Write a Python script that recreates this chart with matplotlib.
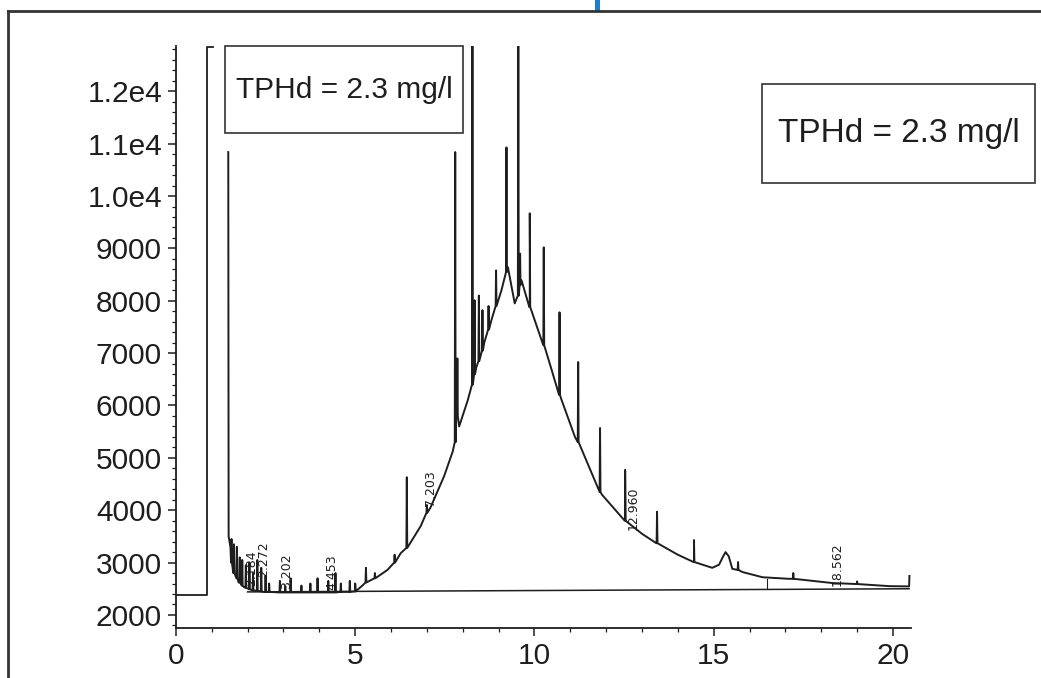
import numpy as np
import matplotlib
matplotlib.use("Agg")
import matplotlib.pyplot as plt
from matplotlib.patches import Rectangle
from matplotlib.lines import Line2D
from matplotlib.ticker import MultipleLocator

plt.rcParams['font.family'] = ['Liberation Sans', 'DejaVu Sans']

# signal envelope (retention time in min, abundance)
env_t = [1.46, 1.47, 1.52, 1.6, 1.75, 1.9, 2.1, 2.45, 3.0, 4.0, 5.0, 5.2, 5.45, 5.9,
         6.27, 6.47, 6.83, 7.1, 7.48, 7.72, 7.82, 7.9, 8.14, 8.38, 8.6, 8.8, 9.08,
         9.26, 9.45, 9.64, 9.87, 10.2, 10.48, 10.76, 11.13, 11.6, 11.88, 12.53, 13.0,
         13.4, 14.0, 14.45, 14.96, 15.15, 15.25, 15.33, 15.42, 15.52, 15.8, 16.36, 17.1,
         18.04, 18.3, 18.97, 19.9, 20.45, 20.46]
env_y = [10840, 3500, 3300, 2800, 2620, 2530, 2480, 2440, 2430, 2430, 2450, 2560, 2670, 2860,
         3180, 3300, 3700, 4050, 4650, 5120, 5900, 5600, 6100, 6730, 7200, 7630, 8200,
         8640, 7950, 8390, 7880, 7250, 6680, 6100, 5400, 4700, 4300, 3800, 3550,
         3370, 3150, 3010, 2900, 2960, 3100, 3200, 3120, 2880, 2820, 2720, 2690,
         2630, 2610, 2590, 2550, 2545, 2745]

# narrow peaks: time, base, apex
pk_t = [1.55, 1.62, 1.7, 1.78, 1.85, 1.95, 2.05, 2.15, 2.27, 2.38, 2.5, 2.6, 2.9, 3.05,
        3.2, 3.5, 3.75, 3.95, 4.25, 4.45, 4.6, 4.85, 5.0, 5.3, 5.55, 6.1, 6.44, 7.0,
        7.79, 7.85, 8.27, 8.33, 8.45, 8.55, 8.72, 8.93, 9.22, 9.55, 9.6, 9.87, 10.26,
        10.7, 11.22, 11.83, 12.53, 13.42, 14.45, 15.68, 17.22, 19.0]
pk_base = [3000, 2800, 2700, 2620, 2560, 2520, 2490, 2470, 2460, 2450, 2440, 2440, 2430, 2430,
           2430, 2430, 2430, 2430, 2430, 2430, 2440, 2440, 2450, 2620, 2700, 3000, 3280, 3950,
           5300, 5800, 6400, 6600, 6850, 7050, 7450, 7900, 8550, 8100, 8300, 7880, 7150,
           6200, 5300, 4350, 3800, 3370, 3010, 2860, 2690, 2590]
pk_top = [3450, 3350, 3300, 3100, 3050, 2950, 3000, 2800, 3050, 2900, 2750, 2600, 2650, 2550,
          2700, 2560, 2600, 2700, 2650, 2800, 2600, 2650, 2600, 2900, 2800, 3150, 4630, 4100,
          10840, 6900, 14000, 8010, 8100, 7820, 7900, 8580, 10930, 14000, 8900, 9670, 9020,
          7780, 6830, 5570, 4770, 3970, 3430, 3010, 2800, 2640]

# solvent front (off scale)
solv_t = [0, 0.87, 0.87, 1.04]
solv_y = [2380, 2380, 12850, 12850]

# drawn integration baseline
base_t = [2.0, 20.45]
base_y = [2440, 2500]
mark_t = [16.5]
mark_y0 = [2500]
mark_y1 = [2690]

# retention time labels: text, x, bottom y
rt_txt = ["2.184", "2.272", "3.202", "4.453", "7.203", "12.960", "18.562"]
rt_x = [2.12, 2.45, 3.1, 4.35, 7.1, 12.75, 18.45]
rt_y = [2560, 2720, 2490, 2480, 4080, 3620, 2560]

ytick_vals = [2000, 3000, 4000, 5000, 6000, 7000, 8000, 9000, 10000, 11000, 12000]
ytick_lbls = ["2000", "3000", "4000", "5000", "6000", "7000", "8000", "9000",
              "1.0e4", "1.1e4", "1.2e4"]
xtick_vals = [0, 5, 10, 15, 20]

box_text = "TPHd = 2.3 mg/l"

# build trace from envelope and peaks
pts = list(zip(env_t, env_y))
d = 0.012
for t, b, p in zip(pk_t, pk_base, pk_top):
    pts += [(t - d, b), (t, p), (t + d, b)]
pts.sort(key=lambda q: q[0])
tr_t = np.array([q[0] for q in pts])
tr_y = np.array([q[1] for q in pts])

fig = plt.figure(figsize=(10.41, 6.78), dpi=100)
ax = fig.add_axes([0.169, 0.0737, 0.706, 0.858])
ink = '#1e1e1e'
ax.plot(solv_t, solv_y, color=ink, lw=1.3)
ax.plot(tr_t, tr_y, color=ink, lw=1.4)
ax.plot(base_t, base_y, color=ink, lw=1.1)
for t, a, b in zip(mark_t, mark_y0, mark_y1):
    ax.plot([t, t], [a, b], color=ink, lw=0.8)
for s, x, y in zip(rt_txt, rt_x, rt_y):
    ax.text(x, y, s, rotation=90, ha='center', va='bottom', fontsize=9,
            color=ink, family=['DejaVu Sans'])

ax.set_xlim(0, 20.5)
ax.set_ylim(1750, 12860)
ax.set_yticks(ytick_vals)
ax.set_yticklabels(ytick_lbls)
ax.set_xticks(xtick_vals)
ax.xaxis.set_minor_locator(MultipleLocator(1))
ax.yaxis.set_minor_locator(MultipleLocator(200))
ax.tick_params(which='major', length=6, width=1.1, labelsize=21.5, colors=ink, pad=4)
ax.tick_params(which='minor', length=3, width=0.9, colors=ink)
for s in ['top', 'right']:
    ax.spines[s].set_visible(False)
for s in ['left', 'bottom']:
    ax.spines[s].set_linewidth(1.3)
    ax.spines[s].set_color(ink)

# label boxes (figure pixel coords -> fractions)
W, H = 1041, 678
def box(x0, y0, x1, y1, fs):
    fig.patches.append(Rectangle((x0 / W, 1 - y1 / H), (x1 - x0) / W, (y1 - y0) / H,
                                 transform=fig.transFigure, fill=True, fc='white',
                                 ec='#333333', lw=1.2, zorder=5))
    fig.text((x0 + x1) / 2 / W, 1 - (y0 + y1) / 2 / H, box_text, ha='center',
             va='center', fontsize=fs, color=ink, zorder=6)

box(225, 46, 463, 133, 21.5)
box(762, 84, 1035, 183, 24)

# outer frame of the scanned page
fig.add_artist(Line2D([8 / W, 1], [1 - 11 / H, 1 - 11 / H], transform=fig.transFigure,
                      color='#333333', lw=2))
fig.add_artist(Line2D([8 / W, 8 / W], [0, 1 - 11 / H], transform=fig.transFigure,
                      color='#333333', lw=2))
fig.patches.append(Rectangle((595 / W, 1 - 11 / H), 5 / W, 11 / H,
                             transform=fig.transFigure, fc='#1a7fd4', ec='none'))

fig.savefig('out.png', dpi=100)
